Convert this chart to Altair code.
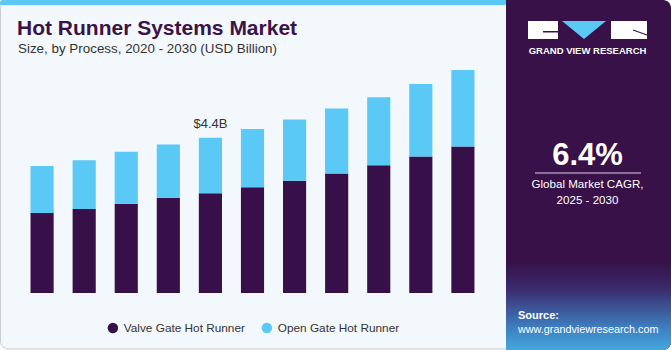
import altair as alt
import pandas as pd

years = ["2020", "2021", "2022", "2023", "2024", "2025", "2026", "2027", "2028", "2029", "2030"]
valve_gate = [2.27, 2.38, 2.53, 2.70, 2.83, 3.00, 3.18, 3.39, 3.62, 3.87, 4.15]
open_gate = [1.33, 1.38, 1.47, 1.51, 1.57, 1.65, 1.74, 1.84, 1.93, 2.05, 2.17]
series = ["Valve Gate Hot Runner", "Open Gate Hot Runner"]
colors = ["#37104A", "#5BC9F5"]
annot_year = "2024"
annot_text = "$4.4B"

rows = []
for i, y in enumerate(years):
    rows.append({"year": y, "segment": series[0], "value": valve_gate[i], "ord": 0})
    rows.append({"year": y, "segment": series[1], "value": open_gate[i], "ord": 1})
df = pd.DataFrame(rows)
tot = pd.DataFrame({"year": years, "total": [a + b for a, b in zip(valve_gate, open_gate)]})
tot["label"] = [annot_text if y == annot_year else "" for y in years]
tot = tot[tot["year"] == annot_year]

L, T = 20, 46
W, H = 465, 247
FONT = "Liberation Sans"


def px(X):
    return X - L


def py(Y):
    return Y - T


one = pd.DataFrame({"d": [0]})


def rect(x1, y1, x2, y2, **kw):
    return alt.Chart(one).mark_rect(**kw).encode(
        x=alt.value(px(x1)), x2=alt.value(px(x2)), y=alt.value(py(y1)), y2=alt.value(py(y2))
    )


def text(X, Y, s, **kw):
    return alt.Chart(one).mark_text(text=s, font=FONT, **kw).encode(
        x=alt.value(px(X)), y=alt.value(py(Y))
    )


bg = rect(0.5, 0.5, 670, 349, color="#F3F8FC", stroke="#C9CCCF", strokeWidth=1, cornerRadius=8)
strip = rect(0, 0, 510, 5, color="#5BC9F5", cornerRadiusTopLeft=4)
panel = rect(506, 0, 671, 350, color="#371148", cornerRadiusTopRight=8, cornerRadiusBottomRight=8)
grad = rect(506, 262, 671, 350,
            color=alt.LinearGradient(gradient="linear", x1=0, y1=0, x2=0, y2=1,
                                     stops=[alt.GradientStop(color="#371148", offset=0),
                                            alt.GradientStop(color="#3B2A6C", offset=0.3),
                                            alt.GradientStop(color="#3E7FC0", offset=0.75),
                                            alt.GradientStop(color="#44A8DE", offset=1)]),
            cornerRadiusBottomRight=8)

logo_g = rect(528, 21, 558, 39, color="white")
logo_g2 = rect(543, 31, 558, 32.5, color="#371148")
logo_r = rect(611, 21, 647, 39, color="white")
logo_r2 = alt.Chart(one).mark_rule(color="#371148", strokeWidth=1.2).encode(
    x=alt.value(px(633)), x2=alt.value(px(647)), y=alt.value(py(30)), y2=alt.value(py(35)))
tri = alt.Chart(one).mark_point(shape="M-1,-0.41L1,-0.41L0,0.41Z", filled=True, opacity=1,
                                color="#5BC9F5", size=1936, strokeWidth=0).encode(
    x=alt.value(px(584)), y=alt.value(py(30)))
logo_t = text(587.5, 51, "GRAND VIEW RESEARCH", color="white", fontSize=9.5, fontWeight="bold",
              align="center", baseline="middle")

cagr = text(587.5, 156, "6.4%", color="white", fontSize=31, fontWeight="bold", align="center",
            baseline="middle")
line = alt.Chart(one).mark_rule(color="#D8D0E0", strokeWidth=1).encode(
    x=alt.value(px(535)), x2=alt.value(px(641)), y=alt.value(py(173)))
cagr1 = text(587.5, 185, "Global Market CAGR,", color="white", fontSize=11.6, align="center",
             baseline="middle")
cagr2 = text(587.5, 201, "2025 - 2030", color="white", fontSize=11.6, align="center",
             baseline="middle")
src1 = text(518, 316, "Source:", color="white", fontSize=11, fontWeight="bold", align="left",
            baseline="middle")
src2 = text(518, 330, "www.grandviewresearch.com", color="white", fontSize=10.8, align="left",
            baseline="middle")

title = text(17, 29, "Hot Runner Systems Market", color="#3B1347", fontSize=21, fontWeight="bold",
             align="left", baseline="middle")
subtitle = text(18, 49, "Size, by Process, 2020 - 2030 (USD Billion)", color="#333333", fontSize=13.4,
                align="left", baseline="middle")

bars = alt.Chart(df).mark_bar().encode(
    x=alt.X("year:N", sort=years, title=None,
            scale=alt.Scale(paddingInner=0.45, paddingOuter=0.25),
            axis=alt.Axis(labelAngle=0, labelFontSize=12.5, labelColor="#333333", labelFont=FONT,
                          labelPadding=5, ticks=False, domain=False, grid=False)),
    y=alt.Y("value:Q", stack="zero", title=None, scale=alt.Scale(domain=[0, 7], nice=False),
            axis=None),
    color=alt.Color("segment:N", scale=alt.Scale(domain=series, range=colors), title=None,
                    legend=alt.Legend(orient="none", legendX=87, legendY=276, direction="horizontal",
                                      symbolType="circle", symbolSize=110, symbolStrokeWidth=0,
                                      labelFontSize=11.8, labelFont=FONT, labelColor="#333333",
                                      columnPadding=16, labelOffset=5, padding=0)),
    order=alt.Order("ord:Q", sort="ascending"),
)

annot = alt.Chart(tot).mark_text(font=FONT, fontSize=13, color="#333333", dy=-14, baseline="middle").encode(
    x=alt.X("year:N", sort=years),
    y=alt.Y("total:Q"),
    text="label:N",
)

chart = alt.layer(
    bg, strip, panel, grad, logo_g, logo_g2, logo_r, logo_r2, tri, logo_t,
    cagr, line, cagr1, cagr2, src1, src2, title, subtitle, bars, annot
).properties(
    width=W, height=H,
    padding={"left": L, "top": T, "right": 671 - L - W, "bottom": 350 - T - H},
    autosize=alt.AutoSizeParams(type="none"),
    background="white",
).configure_view(stroke=None)

chart.save("out.html", embed_options={"renderer": "svg", "actions": False})
